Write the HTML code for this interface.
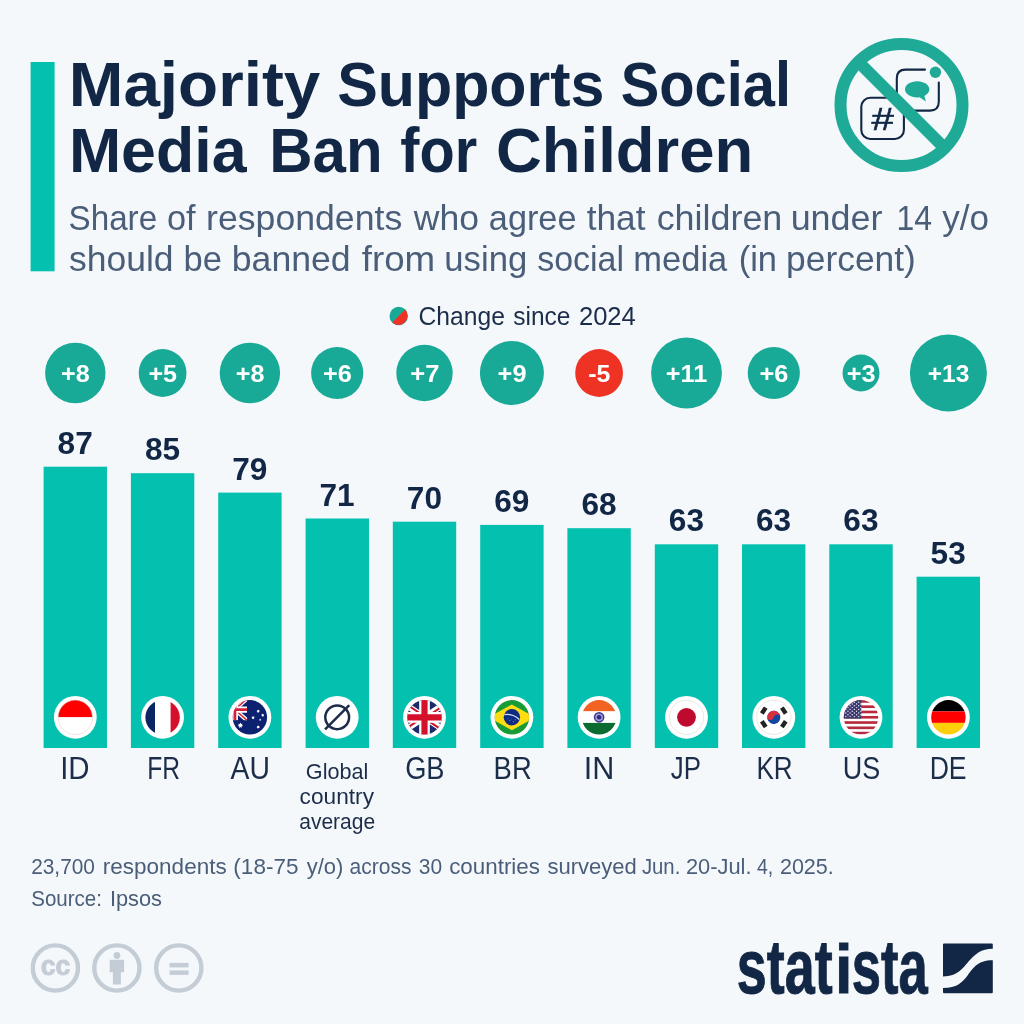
<!DOCTYPE html>
<html lang="en"><head><meta charset="utf-8"><title>Majority Supports Social Media Ban for Children</title>
<style>html,body{margin:0;padding:0;background:#f4f8fb}svg{display:block}text{font-family:"Liberation Sans",sans-serif}</style></head><body>
<svg width="1024" height="1024" viewBox="0 0 1024 1024">
<defs><clipPath id="fc"><circle r="17.2"/></clipPath></defs>
<rect width="1024" height="1024" fill="#f4f8fb"/>
<rect x="30.6" y="62" width="24" height="209.3" fill="#03c0af"/>
<text x="68.74" y="105.9" font-size="62.5" fill="#112745" font-weight="bold" textLength="251.53" lengthAdjust="spacingAndGlyphs" >Majority</text>
<text x="337.13" y="105.9" font-size="62.5" fill="#112745" font-weight="bold" textLength="267.24" lengthAdjust="spacingAndGlyphs" >Supports</text>
<text x="620.71" y="105.9" font-size="62.5" fill="#112745" font-weight="bold" textLength="170.29" lengthAdjust="spacingAndGlyphs" >Social</text>
<text x="68.93" y="172" font-size="62.5" fill="#112745" font-weight="bold" textLength="177.60" lengthAdjust="spacingAndGlyphs" >Media</text>
<text x="269.30" y="172" font-size="62.5" fill="#112745" font-weight="bold" textLength="113.30" lengthAdjust="spacingAndGlyphs" >Ban</text>
<text x="400.23" y="172" font-size="62.5" fill="#112745" font-weight="bold" textLength="76.92" lengthAdjust="spacingAndGlyphs" >for</text>
<text x="496.06" y="172" font-size="62.5" fill="#112745" font-weight="bold" textLength="257.19" lengthAdjust="spacingAndGlyphs" >Children</text>
<text x="68.51" y="230" font-size="34.5" fill="#4b5e79" textLength="88.64" lengthAdjust="spacingAndGlyphs" >Share</text>
<text x="167.03" y="230" font-size="34.5" fill="#4b5e79" textLength="28.64" lengthAdjust="spacingAndGlyphs" >of</text>
<text x="206.08" y="230" font-size="34.5" fill="#4b5e79" textLength="196.13" lengthAdjust="spacingAndGlyphs" >respondents</text>
<text x="413.79" y="230" font-size="34.5" fill="#4b5e79" textLength="65.21" lengthAdjust="spacingAndGlyphs" >who</text>
<text x="488.84" y="230" font-size="34.5" fill="#4b5e79" textLength="87.62" lengthAdjust="spacingAndGlyphs" >agree</text>
<text x="586.67" y="230" font-size="34.5" fill="#4b5e79" textLength="58.82" lengthAdjust="spacingAndGlyphs" >that</text>
<text x="656.68" y="230" font-size="34.5" fill="#4b5e79" textLength="125.64" lengthAdjust="spacingAndGlyphs" >children</text>
<text x="790.65" y="230" font-size="34.5" fill="#4b5e79" textLength="91.89" lengthAdjust="spacingAndGlyphs" >under</text>
<text x="896.60" y="230" font-size="34.5" fill="#4b5e79" textLength="35.55" lengthAdjust="spacingAndGlyphs" >14</text>
<text x="942.21" y="230" font-size="34.5" fill="#4b5e79" textLength="46.74" lengthAdjust="spacingAndGlyphs" >y/o</text>
<text x="69.02" y="270.6" font-size="34.5" fill="#4b5e79" textLength="104.56" lengthAdjust="spacingAndGlyphs" >should</text>
<text x="183.44" y="270.6" font-size="34.5" fill="#4b5e79" textLength="38.41" lengthAdjust="spacingAndGlyphs" >be</text>
<text x="231.77" y="270.6" font-size="34.5" fill="#4b5e79" textLength="118.93" lengthAdjust="spacingAndGlyphs" >banned</text>
<text x="361.74" y="270.6" font-size="34.5" fill="#4b5e79" textLength="73.45" lengthAdjust="spacingAndGlyphs" >from</text>
<text x="444.33" y="270.6" font-size="34.5" fill="#4b5e79" textLength="82.86" lengthAdjust="spacingAndGlyphs" >using</text>
<text x="537.17" y="270.6" font-size="34.5" fill="#4b5e79" textLength="86.92" lengthAdjust="spacingAndGlyphs" >social</text>
<text x="633.36" y="270.6" font-size="34.5" fill="#4b5e79" textLength="93.90" lengthAdjust="spacingAndGlyphs" >media</text>
<text x="738.73" y="270.6" font-size="34.5" fill="#4b5e79" textLength="38.26" lengthAdjust="spacingAndGlyphs" >(in</text>
<text x="786.09" y="270.6" font-size="34.5" fill="#4b5e79" textLength="129.77" lengthAdjust="spacingAndGlyphs" >percent)</text>
<g transform="translate(398.7 316)"><circle r="9.2" fill="#19a997"/><path d="M-6.5 6.5 A9.2 9.2 0 0 0 6.5 -6.5 Z" fill="#ee3325"/></g>
<text x="418.47" y="324.7" font-size="26" fill="#1c2d4a" textLength="86.39" lengthAdjust="spacingAndGlyphs" >Change</text>
<text x="513.33" y="324.7" font-size="26" fill="#1c2d4a" textLength="57.16" lengthAdjust="spacingAndGlyphs" >since</text>
<text x="578.92" y="324.7" font-size="26" fill="#1c2d4a" textLength="56.94" lengthAdjust="spacingAndGlyphs" >2024</text>
<circle cx="75.3" cy="373" r="30.2" fill="#19a997"/>
<text x="61.14" y="381.8" font-size="24" fill="#ffffff" font-weight="bold" textLength="28.70" lengthAdjust="spacingAndGlyphs" >+8</text>
<rect x="43.6" y="466.7" width="63.4" height="281.3" fill="#03c0af"/>
<text x="75.2" y="453.8" font-size="31.6" fill="#112745" font-weight="bold" text-anchor="middle" >87</text>
<circle cx="75.3" cy="717.3" r="21.4" fill="#ffffff"/>
<g transform="translate(75.3 717.3)"><g clip-path="url(#fc)"><rect x="-18" y="-18" width="36" height="18" fill="#fe0000"/><rect x="-18" y="0" width="36" height="18" fill="#fff"/></g><circle r="17.2" fill="none" stroke="#ddd6d6" stroke-width=".6"/></g>
<text x="60.15" y="778.9" font-size="31.3" fill="#1c2d4a" textLength="29.45" lengthAdjust="spacingAndGlyphs" >ID</text>
<circle cx="162.6" cy="373" r="23.9" fill="#19a997"/>
<text x="148.45" y="381.8" font-size="24" fill="#ffffff" font-weight="bold" textLength="28.64" lengthAdjust="spacingAndGlyphs" >+5</text>
<rect x="130.9" y="473.2" width="63.4" height="274.8" fill="#03c0af"/>
<text x="162.5" y="460.3" font-size="31.6" fill="#112745" font-weight="bold" text-anchor="middle" >85</text>
<circle cx="162.6" cy="717.3" r="21.4" fill="#ffffff"/>
<g transform="translate(162.6 717.3)"><g clip-path="url(#fc)"><rect x="-18" y="-18" width="10.4" height="36" fill="#0a2464"/><rect x="-7.6" y="-18" width="15.6" height="36" fill="#fff"/><rect x="8" y="-18" width="10" height="36" fill="#d4102a"/></g></g>
<text x="147.13" y="778.9" font-size="31.3" fill="#1c2d4a" textLength="32.79" lengthAdjust="spacingAndGlyphs" >FR</text>
<circle cx="249.9" cy="373" r="30.2" fill="#19a997"/>
<text x="235.74" y="381.8" font-size="24" fill="#ffffff" font-weight="bold" textLength="28.70" lengthAdjust="spacingAndGlyphs" >+8</text>
<rect x="218.2" y="492.6" width="63.4" height="255.4" fill="#03c0af"/>
<text x="249.8" y="479.7" font-size="31.6" fill="#112745" font-weight="bold" text-anchor="middle" >79</text>
<circle cx="249.9" cy="717.3" r="21.4" fill="#ffffff"/>
<g transform="translate(249.9 717.3)"><g clip-path="url(#fc)"><rect x="-18" y="-18" width="36" height="36" fill="#0c2170"/><g transform="translate(-15 -7.7)"><clipPath id="auc"><rect x="-12.2" y="-10.9" width="24.4" height="10.9"/><rect x="-12.2" y="-10.9" width="24.4" height="21.8"/></clipPath><g clip-path="url(#auc)"><path d="M-12.2 -10.9L12.2 10.9M-12.2 10.9L12.2 -10.9" stroke="#fff" stroke-width="4"/><path d="M-12.2 -10.9L12.2 10.9M-12.2 10.9L12.2 -10.9" stroke="#d4213b" stroke-width="1.5"/><path d="M0 -10.9V10.9M-12.2 0H12.2" stroke="#fff" stroke-width="6.1"/><path d="M0 -10.9V10.9M-12.2 0H12.2" stroke="#d4213b" stroke-width="2.8"/></g></g><polygon points="-9.50,5.30 -8.83,6.71 -7.31,6.35 -8.00,7.76 -6.77,8.72 -8.30,9.06 -8.29,10.62 -9.50,9.64 -10.71,10.62 -10.70,9.06 -12.23,8.72 -11.00,7.76 -11.69,6.35 -10.17,6.71" fill="#fff"/><polygon points="8.30,-7.80 8.74,-7.02 9.63,-7.16 9.29,-6.33 9.96,-5.72 9.10,-5.46 9.04,-4.57 8.30,-5.08 7.56,-4.57 7.50,-5.46 6.64,-5.72 7.31,-6.33 6.97,-7.16 7.86,-7.02" fill="#fff"/><polygon points="3.20,-1.30 3.64,-0.52 4.53,-0.66 4.19,0.17 4.86,0.78 4.00,1.04 3.94,1.93 3.20,1.42 2.46,1.93 2.40,1.04 1.54,0.78 2.21,0.17 1.87,-0.66 2.76,-0.52" fill="#fff"/><polygon points="12.80,-3.70 13.22,-2.96 14.05,-3.10 13.74,-2.31 14.36,-1.74 13.55,-1.50 13.49,-0.66 12.80,-1.14 12.11,-0.66 12.05,-1.50 11.24,-1.74 11.86,-2.31 11.55,-3.10 12.38,-2.96" fill="#fff"/><polygon points="8.30,8.00 8.74,8.78 9.63,8.64 9.29,9.47 9.96,10.08 9.10,10.34 9.04,11.23 8.30,10.72 7.56,11.23 7.50,10.34 6.64,10.08 7.31,9.47 6.97,8.64 7.86,8.78" fill="#fff"/><polygon points="10.30,1.50 10.69,2.07 11.35,2.26 10.93,2.80 10.95,3.49 10.30,3.26 9.65,3.49 9.67,2.80 9.25,2.26 9.91,2.07" fill="#fff"/></g></g>
<text x="230.50" y="778.9" font-size="31.3" fill="#1c2d4a" textLength="39.40" lengthAdjust="spacingAndGlyphs" >AU</text>
<circle cx="337.2" cy="373" r="26.1" fill="#19a997"/>
<text x="323.04" y="381.8" font-size="24" fill="#ffffff" font-weight="bold" textLength="28.84" lengthAdjust="spacingAndGlyphs" >+6</text>
<rect x="305.6" y="518.5" width="63.4" height="229.5" fill="#03c0af"/>
<text x="337.1" y="505.6" font-size="31.6" fill="#112745" font-weight="bold" text-anchor="middle" >71</text>
<circle cx="337.2" cy="717.3" r="21.4" fill="#ffffff"/>
<g transform="translate(337.2 717.3)"><g clip-path="url(#fc)"><rect x="-18" y="-18" width="36" height="36" fill="#fff"/><circle r="11.9" fill="none" stroke="#1c2d4a" stroke-width="2.5"/><path d="M-12.6 12.6L12.6 -12.6" stroke="#1c2d4a" stroke-width="2.5" stroke-linecap="round"/></g></g>
<circle cx="424.5" cy="373" r="28.2" fill="#19a997"/>
<text x="410.33" y="381.8" font-size="24" fill="#ffffff" font-weight="bold" textLength="29.11" lengthAdjust="spacingAndGlyphs" >+7</text>
<rect x="392.8" y="521.7" width="63.4" height="226.3" fill="#03c0af"/>
<text x="424.4" y="508.8" font-size="31.6" fill="#112745" font-weight="bold" text-anchor="middle" >70</text>
<circle cx="424.5" cy="717.3" r="21.4" fill="#ffffff"/>
<g transform="translate(424.5 717.3)"><g clip-path="url(#fc)"><rect x="-18" y="-18" width="36" height="36" fill="#1b2a6b"/><path d="M-25.8 -17.2L25.8 17.2M-25.8 17.2L25.8 -17.2" stroke="#fff" stroke-width="6"/><path d="M-25.8 -18.2L0 -1M0 1L25.8 18.2M-25.8 16.2L0 -1M0 1L25.8 -16.2" stroke="#cf142b" stroke-width="2"/><path d="M0 -18V18M-18 0H18" stroke="#fff" stroke-width="10.7"/><path d="M0 -18V18M-18 0H18" stroke="#d4102a" stroke-width="6.2"/></g></g>
<text x="405.14" y="778.9" font-size="31.3" fill="#1c2d4a" textLength="39.39" lengthAdjust="spacingAndGlyphs" >GB</text>
<circle cx="511.9" cy="373" r="32.0" fill="#19a997"/>
<text x="497.64" y="381.8" font-size="24" fill="#ffffff" font-weight="bold" textLength="28.91" lengthAdjust="spacingAndGlyphs" >+9</text>
<rect x="480.2" y="524.9" width="63.4" height="223.1" fill="#03c0af"/>
<text x="511.8" y="512.0" font-size="31.6" fill="#112745" font-weight="bold" text-anchor="middle" >69</text>
<circle cx="511.9" cy="717.3" r="21.4" fill="#ffffff"/>
<g transform="translate(511.9 717.3)"><g clip-path="url(#fc)"><rect x="-18" y="-18" width="36" height="36" fill="#179b36"/><polygon points="-23.3,0 0,-12.9 23.3,0 0,12.9" fill="#fddd12"/><circle r="8.2" fill="#0f2a82"/><path d="M-7.6 -2.6Q0.5 -4.2 7.4 2.2" stroke="#cfe0ee" stroke-width="1.3" fill="none"/><circle cx="-2" cy="3" r=".5" fill="#9fb4e0"/><circle cx="1.5" cy="4.5" r=".5" fill="#9fb4e0"/><circle cx="3.5" cy="2.5" r=".5" fill="#9fb4e0"/><circle cx="-4" cy="1.5" r=".45" fill="#9fb4e0"/><circle cx="0" cy="1.8" r=".45" fill="#9fb4e0"/></g></g>
<text x="493.61" y="778.9" font-size="31.3" fill="#1c2d4a" textLength="38.11" lengthAdjust="spacingAndGlyphs" >BR</text>
<circle cx="599.1" cy="373" r="23.9" fill="#ee3325"/>
<text x="588.21" y="381.8" font-size="24" fill="#ffffff" font-weight="bold" textLength="22.20" lengthAdjust="spacingAndGlyphs" >-5</text>
<rect x="567.4" y="528.2" width="63.4" height="219.8" fill="#03c0af"/>
<text x="599.0" y="515.3" font-size="31.6" fill="#112745" font-weight="bold" text-anchor="middle" >68</text>
<circle cx="599.1" cy="717.3" r="21.4" fill="#ffffff"/>
<g transform="translate(599.1 717.3)"><g clip-path="url(#fc)"><rect x="-18" y="-18" width="36" height="12.1" fill="#f26223"/><rect x="-18" y="-5.9" width="36" height="11.5" fill="#fff"/><rect x="-18" y="5.6" width="36" height="12.4" fill="#0b6b30"/><circle r="4.6" fill="#a39fd6" stroke="#3b3791" stroke-width="1.5"/><circle r="2.3" fill="#2d2a80"/></g></g>
<text x="583.65" y="778.9" font-size="31.3" fill="#1c2d4a" textLength="30.60" lengthAdjust="spacingAndGlyphs" >IN</text>
<circle cx="686.5" cy="373" r="35.4" fill="#19a997"/>
<text x="665.84" y="381.8" font-size="24" fill="#ffffff" font-weight="bold" textLength="41.47" lengthAdjust="spacingAndGlyphs" >+11</text>
<rect x="654.8" y="544.3" width="63.4" height="203.7" fill="#03c0af"/>
<text x="686.4" y="531.4" font-size="31.6" fill="#112745" font-weight="bold" text-anchor="middle" >63</text>
<circle cx="686.5" cy="717.3" r="21.4" fill="#ffffff"/>
<g transform="translate(686.5 717.3)"><g clip-path="url(#fc)"><rect x="-18" y="-18" width="36" height="36" fill="#fff"/><circle r="9.4" fill="#bf0a30"/></g><circle r="17.2" fill="none" stroke="#ddd6d6" stroke-width=".6"/></g>
<text x="670.81" y="778.9" font-size="31.3" fill="#1c2d4a" textLength="30.13" lengthAdjust="spacingAndGlyphs" >JP</text>
<circle cx="773.8" cy="373" r="26.1" fill="#19a997"/>
<text x="759.54" y="381.8" font-size="24" fill="#ffffff" font-weight="bold" textLength="28.84" lengthAdjust="spacingAndGlyphs" >+6</text>
<rect x="742.0" y="544.3" width="63.4" height="203.7" fill="#03c0af"/>
<text x="773.6" y="531.4" font-size="31.6" fill="#112745" font-weight="bold" text-anchor="middle" >63</text>
<circle cx="773.8" cy="717.3" r="21.4" fill="#ffffff"/>
<g transform="translate(773.8 717.3)"><g clip-path="url(#fc)"><rect x="-18" y="-18" width="36" height="36" fill="#fff"/><g transform="rotate(-14)"><circle r="6.6" fill="#12479f"/><path d="M-6.6 0A6.6 6.6 0 0 1 6.6 0C4.6 -2.6 1.6 -2.4 0 0C-1.6 2.4 -4.6 2.6 -6.6 0Z" fill="#d8303f"/></g><g transform="rotate(-146) translate(12.1 0)"><rect x="-2.2" y="-3.5" width="4.4" height="7" fill="#222"/></g><g transform="rotate(-34) translate(12.1 0)"><rect x="-2.2" y="-3.5" width="4.4" height="7" fill="#222"/></g><g transform="rotate(34) translate(12.1 0)"><rect x="-2.2" y="-3.5" width="4.4" height="7" fill="#222"/></g><g transform="rotate(146) translate(12.1 0)"><rect x="-2.2" y="-3.5" width="4.4" height="7" fill="#222"/></g></g><circle r="17.2" fill="none" stroke="#ddd6d6" stroke-width=".6"/></g>
<text x="756.41" y="778.9" font-size="31.3" fill="#1c2d4a" textLength="36.24" lengthAdjust="spacingAndGlyphs" >KR</text>
<circle cx="861.0" cy="373" r="18.5" fill="#19a997"/>
<text x="846.84" y="381.8" font-size="24" fill="#ffffff" font-weight="bold" textLength="28.84" lengthAdjust="spacingAndGlyphs" >+3</text>
<rect x="829.3" y="544.3" width="63.4" height="203.7" fill="#03c0af"/>
<text x="860.9" y="531.4" font-size="31.6" fill="#112745" font-weight="bold" text-anchor="middle" >63</text>
<circle cx="861.0" cy="717.3" r="21.4" fill="#ffffff"/>
<g transform="translate(861.0 717.3)"><g clip-path="url(#fc)"><rect x="-18" y="-18" width="36" height="36" fill="#fff"/><rect x="-18" y="-17.20" width="36" height="2.64" fill="#b52a3c"/><rect x="-18" y="-11.92" width="36" height="2.64" fill="#b52a3c"/><rect x="-18" y="-6.64" width="36" height="2.64" fill="#b52a3c"/><rect x="-18" y="-1.36" width="36" height="2.64" fill="#b52a3c"/><rect x="-18" y="3.92" width="36" height="2.64" fill="#b52a3c"/><rect x="-18" y="9.20" width="36" height="2.64" fill="#b52a3c"/><rect x="-18" y="14.48" width="36" height="2.64" fill="#b52a3c"/><rect x="-18" y="-17.2" width="18.25" height="18.48" fill="#3c3b70"/><circle cx="-15.20" cy="-15.10" r=".72" fill="#e4e4f2"/><circle cx="-10.90" cy="-15.10" r=".72" fill="#e4e4f2"/><circle cx="-6.60" cy="-15.10" r=".72" fill="#e4e4f2"/><circle cx="-2.30" cy="-15.10" r=".72" fill="#e4e4f2"/><circle cx="-13.05" cy="-13.30" r=".72" fill="#e4e4f2"/><circle cx="-8.75" cy="-13.30" r=".72" fill="#e4e4f2"/><circle cx="-4.45" cy="-13.30" r=".72" fill="#e4e4f2"/><circle cx="-0.15" cy="-13.30" r=".72" fill="#e4e4f2"/><circle cx="-15.20" cy="-11.50" r=".72" fill="#e4e4f2"/><circle cx="-10.90" cy="-11.50" r=".72" fill="#e4e4f2"/><circle cx="-6.60" cy="-11.50" r=".72" fill="#e4e4f2"/><circle cx="-2.30" cy="-11.50" r=".72" fill="#e4e4f2"/><circle cx="-13.05" cy="-9.70" r=".72" fill="#e4e4f2"/><circle cx="-8.75" cy="-9.70" r=".72" fill="#e4e4f2"/><circle cx="-4.45" cy="-9.70" r=".72" fill="#e4e4f2"/><circle cx="-0.15" cy="-9.70" r=".72" fill="#e4e4f2"/><circle cx="-15.20" cy="-7.90" r=".72" fill="#e4e4f2"/><circle cx="-10.90" cy="-7.90" r=".72" fill="#e4e4f2"/><circle cx="-6.60" cy="-7.90" r=".72" fill="#e4e4f2"/><circle cx="-2.30" cy="-7.90" r=".72" fill="#e4e4f2"/><circle cx="-13.05" cy="-6.10" r=".72" fill="#e4e4f2"/><circle cx="-8.75" cy="-6.10" r=".72" fill="#e4e4f2"/><circle cx="-4.45" cy="-6.10" r=".72" fill="#e4e4f2"/><circle cx="-0.15" cy="-6.10" r=".72" fill="#e4e4f2"/><circle cx="-15.20" cy="-4.30" r=".72" fill="#e4e4f2"/><circle cx="-10.90" cy="-4.30" r=".72" fill="#e4e4f2"/><circle cx="-6.60" cy="-4.30" r=".72" fill="#e4e4f2"/><circle cx="-2.30" cy="-4.30" r=".72" fill="#e4e4f2"/><circle cx="-13.05" cy="-2.50" r=".72" fill="#e4e4f2"/><circle cx="-8.75" cy="-2.50" r=".72" fill="#e4e4f2"/><circle cx="-4.45" cy="-2.50" r=".72" fill="#e4e4f2"/><circle cx="-0.15" cy="-2.50" r=".72" fill="#e4e4f2"/><circle cx="-15.20" cy="-0.70" r=".72" fill="#e4e4f2"/><circle cx="-10.90" cy="-0.70" r=".72" fill="#e4e4f2"/><circle cx="-6.60" cy="-0.70" r=".72" fill="#e4e4f2"/><circle cx="-2.30" cy="-0.70" r=".72" fill="#e4e4f2"/></g></g>
<text x="842.87" y="778.9" font-size="31.3" fill="#1c2d4a" textLength="37.52" lengthAdjust="spacingAndGlyphs" >US</text>
<circle cx="948.4" cy="373" r="38.5" fill="#19a997"/>
<text x="927.77" y="381.8" font-size="24" fill="#ffffff" font-weight="bold" textLength="41.61" lengthAdjust="spacingAndGlyphs" >+13</text>
<rect x="916.6" y="576.7" width="63.4" height="171.3" fill="#03c0af"/>
<text x="948.2" y="563.8" font-size="31.6" fill="#112745" font-weight="bold" text-anchor="middle" >53</text>
<circle cx="948.4" cy="717.3" r="21.4" fill="#ffffff"/>
<g transform="translate(948.4 717.3)"><g clip-path="url(#fc)"><rect x="-18" y="-18" width="36" height="12.1" fill="#000"/><rect x="-18" y="-5.9" width="36" height="11.5" fill="#fe0000"/><rect x="-18" y="5.6" width="36" height="12.4" fill="#fccf0a"/></g></g>
<text x="929.67" y="778.9" font-size="31.3" fill="#1c2d4a" textLength="36.94" lengthAdjust="spacingAndGlyphs" >DE</text>
<text x="305.82" y="778.5" font-size="22" fill="#1c2d4a" textLength="62.50" lengthAdjust="spacingAndGlyphs" >Global</text>
<text x="299.64" y="804.3" font-size="22" fill="#1c2d4a" textLength="74.35" lengthAdjust="spacingAndGlyphs" >country</text>
<text x="299.21" y="829.4" font-size="22" fill="#1c2d4a" textLength="76.02" lengthAdjust="spacingAndGlyphs" >average</text>
<text x="31.16" y="874.0" font-size="21.7" fill="#4b5e79" textLength="63.75" lengthAdjust="spacingAndGlyphs" >23,700</text>
<text x="102.84" y="874.0" font-size="21.7" fill="#4b5e79" textLength="123.83" lengthAdjust="spacingAndGlyphs" >respondents</text>
<text x="233.35" y="874.0" font-size="21.7" fill="#4b5e79" textLength="65.17" lengthAdjust="spacingAndGlyphs" >(18-75</text>
<text x="306.75" y="874.0" font-size="21.7" fill="#4b5e79" textLength="36.66" lengthAdjust="spacingAndGlyphs" >y/o)</text>
<text x="349.61" y="874.0" font-size="21.7" fill="#4b5e79" textLength="61.83" lengthAdjust="spacingAndGlyphs" >across</text>
<text x="418.81" y="874.0" font-size="21.7" fill="#4b5e79" textLength="23.32" lengthAdjust="spacingAndGlyphs" >30</text>
<text x="449.15" y="874.0" font-size="21.7" fill="#4b5e79" textLength="90.84" lengthAdjust="spacingAndGlyphs" >countries</text>
<text x="547.49" y="874.0" font-size="21.7" fill="#4b5e79" textLength="89.39" lengthAdjust="spacingAndGlyphs" >surveyed</text>
<text x="641.89" y="874.0" font-size="21.7" fill="#4b5e79" textLength="38.44" lengthAdjust="spacingAndGlyphs" >Jun.</text>
<text x="685.91" y="874.0" font-size="21.7" fill="#4b5e79" textLength="65.59" lengthAdjust="spacingAndGlyphs" >20-Jul.</text>
<text x="756.96" y="874.0" font-size="21.7" fill="#4b5e79" textLength="16.28" lengthAdjust="spacingAndGlyphs" >4,</text>
<text x="779.92" y="874.0" font-size="21.7" fill="#4b5e79" textLength="53.92" lengthAdjust="spacingAndGlyphs" >2025.</text>
<text x="31.28" y="906.0" font-size="21.7" fill="#4b5e79" textLength="70.70" lengthAdjust="spacingAndGlyphs" >Source:</text>
<text x="109.94" y="906.0" font-size="21.7" fill="#4b5e79" textLength="52.03" lengthAdjust="spacingAndGlyphs" >Ipsos</text>
<circle cx="55.4" cy="968" r="22.6" fill="none" stroke="#c4cdd6" stroke-width="4.4"/>
<circle cx="116.9" cy="968" r="22.6" fill="none" stroke="#c4cdd6" stroke-width="4.4"/>
<circle cx="178.8" cy="968" r="22.6" fill="none" stroke="#c4cdd6" stroke-width="4.4"/>
<text x="55.4" y="975.4" font-size="27.5" font-weight="bold" fill="#c4cdd6" stroke="#c4cdd6" stroke-width="1" text-anchor="middle" textLength="29.5" lengthAdjust="spacingAndGlyphs">cc</text>
<g transform="translate(116.9 968)" fill="#c4cdd6"><circle cx="0" cy="-12.5" r="3.4"/><path d="M-7.2 -8.3H7.2V4.3H4V16.5H-4V4.3H-7.2Z"/></g>
<g transform="translate(178.8 968)" fill="#c4cdd6"><rect x="-9.3" y="-5.1" width="19.1" height="4.5"/><rect x="-9.3" y="2.4" width="19.1" height="4.5"/></g>
<text transform="translate(736.82 992.5) scale(1 1)" x="0" y="0" font-size="76" font-weight="bold" fill="#112745" stroke="#112745" stroke-width="1" textLength="95.77" lengthAdjust="spacingAndGlyphs">stat</text>
<text transform="translate(834.96 992.5) scale(1 0.9)" x="0" y="0" font-size="76" font-weight="bold" fill="#112745" stroke="#112745" stroke-width="1" textLength="17.46" lengthAdjust="spacingAndGlyphs">i</text>
<text transform="translate(851.66 992.5) scale(1 1)" x="0" y="0" font-size="76" font-weight="bold" fill="#112745" stroke="#112745" stroke-width="1" textLength="75.96" lengthAdjust="spacingAndGlyphs">sta</text>
<g transform="translate(943 943.4)" fill="#112745"><path d="M1 0H48.8Q49.8 0 49.8 1V5.4C38 5.4 32 11 26.2 17.4C20 24.5 15 33 0 33V1Q0 0 1 0Z"/><path d="M0 44.6C14 44.6 19 39 24.4 32.3C30 25 34 16.8 49.8 16.8V48.8Q49.8 49.8 48.8 49.8H1Q0 49.8 0 48.8Z"/></g>
<g fill="none" stroke="#112745" stroke-width="2.1" stroke-linecap="round">
<rect x="861.3" y="97.8" width="42.6" height="41.2" rx="9" ry="9"/>
<path d="M925 69.6 H905.5 Q896.8 69.6 896.8 78.3 V101.5 Q896.8 110.6 905.5 110.6 H930 Q938.8 110.6 938.8 101.5 V82.5"/>
</g>
<circle cx="935.4" cy="72.3" r="5.7" fill="#1eaa96"/>
<path d="M917.2 81.2c6.8 0 12.2 3.6 12.2 8.1 0 2.7-2 5.1-5 6.6l1.5 5.6-6.3-4.3c-.8.1-1.6.2-2.4.2-6.8 0-12.2-3.6-12.2-8.1s5.400000000000001-8.1 12.2-8.1z" fill="#1eaa96"/>
<text x="871.6" y="129.6" font-size="31" fill="#112745" stroke="#112745" stroke-width=".5" textLength="22.4" lengthAdjust="spacingAndGlyphs">#</text>
<circle cx="901.5" cy="105" r="61" fill="none" stroke="#1eaa96" stroke-width="12"/>
<path d="M860 63.5 L943 146.5" stroke="#1eaa96" stroke-width="12" fill="none"/>
</svg></body></html>
